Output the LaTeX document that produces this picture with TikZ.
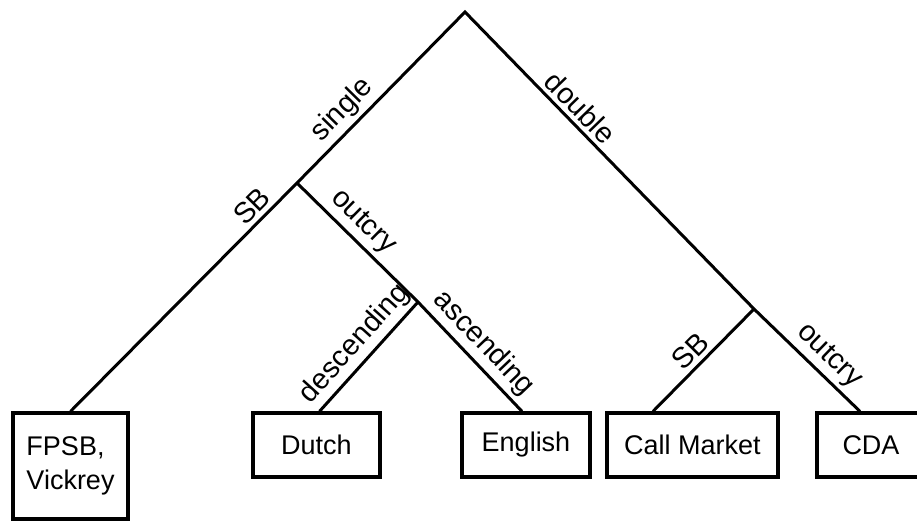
\documentclass[tikz,border=0pt]{standalone}
\usepackage{fontspec}
\setmainfont{Liberation Sans}
\usetikzlibrary{calc}

\tikzset{
  leaf/.style={draw, line width=1.6pt, inner sep=2pt,
    font=\fontsize{13.5}{17}\selectfont},
  branch/.style={line width=1.5pt, line join=miter},
  lbl/.style={above, sloped, inner sep=2pt,
    font=\fontsize{14.5}{16}\selectfont}
}

\begin{document}
\begin{tikzpicture}[x=0.5pt,y=-0.5pt]
      \useasboundingbox (0,0) rectangle (917,522);

      % outcomes
      \node[leaf, minimum width=57.5pt, minimum height=53pt, align=left]
        (fpsb) at (70.5,466) {FPSB,\\Vickrey};
      \node[leaf, minimum width=63.5pt, minimum height=32pt] (dutch) at (316.5,445) {Dutch};
      \node[leaf, minimum width=64pt, minimum height=32pt] (english) at (526,445) {English};
      \node[leaf, minimum width=85.5pt, minimum height=32pt] (callmkt) at (692.5,445) {Call Market};
      \node[leaf, minimum width=54pt, minimum height=32pt] (cda) at (871,445) {CDA};

      % branch points
      \coordinate (root) at (465,12);
      \coordinate (sbj) at (297,183);
      \coordinate (ocj) at (418,302);
      \coordinate (dblj) at (754,309);

      \draw[branch] (fpsb.north) -- node[lbl, pos=0.85] {SB}
        (sbj) -- node[lbl, pos=0.35] {single}
        (root) -- node[lbl, pos=0.36] {double}
        (dblj) -- node[lbl, pos=0.59] {outcry}
        ($(cda.north)+(-11,0)$);
      \draw[branch] (sbj) -- node[lbl, pos=0.44] {outcry}
        (ocj) -- node[lbl, pos=0.5] {ascending}
        ($(english.north)+(-4,0)$);
      \draw[branch] ($(dutch.north)+(3,0)$) -- node[lbl, pos=0.5] {descending} (ocj);
      \draw[branch] ($(callmkt.north)+(-39.5,0)$) -- node[lbl, pos=0.48] {SB} (dblj);
\end{tikzpicture}
\end{document}
